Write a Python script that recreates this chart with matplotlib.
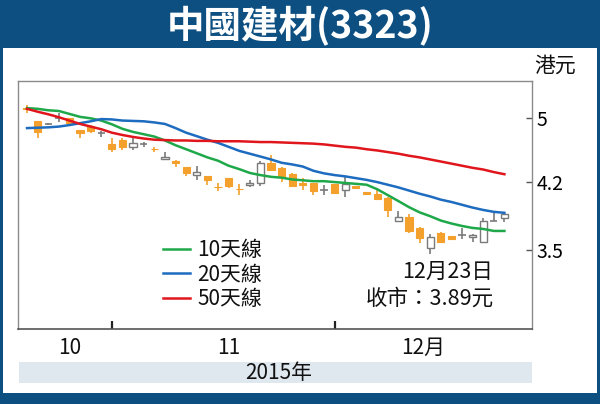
import matplotlib.pyplot as plt
from matplotlib.patches import Rectangle
import numpy as np

# daily prices (HK$), 2015-10-20 .. 2015-12-23
opens  = [5.13, 4.95, 4.91, 4.99, 4.99, 4.83, 4.89, 4.80, 4.65, 4.71,
          4.62, 4.65, 4.595, 4.47, 4.45, 4.37, 4.28, 4.27, 4.145, 4.25,
          4.125, 4.17, 4.19, 4.42, 4.36, 4.29, 4.19, 4.19, 4.11, 4.18,
          4.11, 4.16, 4.09, 4.07, 4.02, 3.78, 3.82, 3.71, 3.51, 3.66,
          3.63, 3.64, 3.62, 3.57, 3.78, 3.81]
highs  = [5.17, 4.96, 4.93, 5.06, 5.00, 4.84, 4.90, 4.82, 4.73, 4.73,
          4.73, 4.68, 4.62, 4.56, 4.46, 4.38, 4.39, 4.27, 4.19, 4.25,
          4.18, 4.22, 4.45, 4.52, 4.37, 4.30, 4.25, 4.19, 4.17, 4.18,
          4.26, 4.16, 4.09, 4.12, 4.03, 3.88, 3.85, 3.715, 3.65, 3.665,
          3.635, 3.71, 3.645, 3.81, 3.88, 3.87]
lows   = [5.06, 4.73, 4.90, 4.94, 4.92, 4.73, 4.80, 4.74, 4.56, 4.58,
          4.58, 4.62, 4.56, 4.47, 4.37, 4.27, 4.22, 4.17, 4.10, 4.13,
          4.06, 4.14, 4.16, 4.33, 4.20, 4.14, 4.11, 4.06, 4.06, 4.07,
          4.03, 4.125, 4.06, 4.00, 3.82, 3.775, 3.66, 3.56, 3.46, 3.565,
          3.595, 3.60, 3.57, 3.565, 3.78, 3.77]
closes = [5.12, 4.81, 4.91, 4.99, 4.93, 4.80, 4.82, 4.80, 4.59, 4.62,
          4.67, 4.65, 4.59, 4.49, 4.42, 4.30, 4.32, 4.22, 4.14, 4.16,
          4.12, 4.19, 4.42, 4.34, 4.26, 4.16, 4.17, 4.10, 4.11, 4.08,
          4.18, 4.13, 4.07, 4.01, 3.89, 3.82, 3.68, 3.61, 3.62, 3.57,
          3.60, 3.64, 3.64, 3.78, 3.78, 3.85]

ma10 = [5.13, 5.12, 5.10, 5.09, 5.05, 5.01, 4.99, 4.96, 4.91, 4.85,
        4.81, 4.78, 4.75, 4.70, 4.64, 4.59, 4.54, 4.49, 4.45, 4.39,
        4.35, 4.305, 4.28, 4.26, 4.25, 4.23, 4.22, 4.21, 4.21, 4.20,
        4.19, 4.18, 4.17, 4.12, 4.055, 3.99, 3.925, 3.87, 3.83, 3.785,
        3.755, 3.73, 3.71, 3.70, 3.68, 3.68]
ma20 = [4.86, 4.865, 4.87, 4.88, 4.90, 4.925, 4.95, 4.98, 4.975, 4.96,
        4.955, 4.95, 4.935, 4.915, 4.86, 4.80, 4.755, 4.71, 4.67, 4.62,
        4.57, 4.535, 4.50, 4.465, 4.425, 4.405, 4.38, 4.33, 4.30, 4.28,
        4.265, 4.245, 4.225, 4.20, 4.17, 4.14, 4.105, 4.07, 4.04, 4.005,
        3.98, 3.95, 3.92, 3.895, 3.875, 3.865]
ma50 = [5.12, 5.08, 5.045, 5.005, 4.96, 4.915, 4.88, 4.845, 4.80, 4.77,
        4.745, 4.725, 4.71, 4.705, 4.70, 4.70, 4.695, 4.695, 4.69, 4.69,
        4.69, 4.685, 4.68, 4.68, 4.675, 4.67, 4.665, 4.66, 4.65, 4.635,
        4.62, 4.61, 4.59, 4.575, 4.555, 4.535, 4.51, 4.49, 4.465, 4.44,
        4.415, 4.39, 4.365, 4.345, 4.315, 4.29]

month_labels = ['10', '11', '12月']
month_label_day = [4, 19, 37.3]   # where each month name sits (day index)
month_first = [8, 29]             # first trading day of Nov and Dec
y_ticks = [3.5, 4.2, 5]
y_ticklabels = ['3.5', '4.2', '5']

plt.rcParams['font.family'] = ['Noto Sans CJK TC', 'DejaVu Sans']

W, H = 600, 404
BLUE = '#0e4f82'
ORANGE = '#f4a02c'
GREY = '#7a7a7a'

fig = plt.figure(figsize=(6, 4.04), dpi=100)
fig.patch.set_facecolor(BLUE)

def fx(x):
    return x / W

def fy(y):
    return 1 - y / H

# white panel and grey year band
fig.patches.append(Rectangle((fx(3), fy(393)), fx(594), 345 / H, transform=fig.transFigure,
                             facecolor='white', edgecolor='none', zorder=-2))
fig.patches.append(Rectangle((fx(19), fy(383)), fx(513), 21 / H, transform=fig.transFigure,
                             facecolor='#dfe7ef', edgecolor='none', zorder=-1))

ax = fig.add_axes([fx(18), fy(329), fx(514), 248 / H])
ax.set_facecolor('none')

n = len(opens)
x = np.arange(n)
o = np.array(opens); c = np.array(closes); h = np.array(highs); l = np.array(lows)
down = c < o
flat = c == o
up = c > o

# wicks
ax.vlines(x[down], l[down], h[down], color=ORANGE, lw=1.2, zorder=2)
ax.vlines(x[~down], l[~down], h[~down], color=GREY, lw=1.2, zorder=2)
# bodies
bw = 0.68
ax.bar(x[down], (o - c)[down], bottom=c[down], width=bw, color=ORANGE,
       edgecolor=ORANGE, lw=0.8, zorder=3)
ax.bar(x[up], (c - o)[up], bottom=o[up], width=bw, color='white',
       edgecolor=GREY, lw=1.0, zorder=3)
ax.hlines(c[flat], x[flat] - bw / 2, x[flat] + bw / 2, color=GREY, lw=1.2, zorder=3)

ax.plot(x, ma10, color='#1fa84a', lw=1.8, label='10天線', zorder=4)
ax.plot(x, ma20, color='#1d6cbf', lw=1.8, label='20天線', zorder=4)
ax.plot(x, ma50, color='#e0161c', lw=1.8, label='50天線', zorder=4)

ax.set_yscale('log')
ax.set_ylim(2.823, 5.52)
ax.set_xlim(-0.85, 47.6)
ax.yaxis.tick_right()
ax.set_yticks(y_ticks)
ax.set_yticklabels(y_ticklabels)
ax.yaxis.set_minor_locator(plt.NullLocator())
ax.tick_params(axis='y', direction='in', length=4, width=1, pad=3, labelsize=14,
               color='#555555')
ax.set_xticks(month_first)
ax.set_xticklabels([])
ax.tick_params(axis='x', direction='in', length=6, width=1.6, color='#222222')

for side in ['top', 'left', 'right']:
    ax.spines[side].set_color('#8a8a8a')
    ax.spines[side].set_linewidth(1)
ax.spines['bottom'].set_color('#555555')
ax.spines['bottom'].set_linewidth(1.2)

for pos, lab in zip(month_label_day, month_labels):
    ax.text(pos, -0.075, lab, transform=ax.get_xaxis_transform(), ha='center',
            va='center', fontsize=15, color='#111111')

leg = ax.legend(loc='upper left', bbox_to_anchor=(fx(163 - 18) / fx(514), 1 - (239 - 81) / 248),
                frameon=False, fontsize=15, handlelength=1.3, handletextpad=0.35,
                labelspacing=0.13, borderaxespad=0, borderpad=0)
for t in leg.get_texts():
    t.set_color('#111111')

fig.text(fx(493), fy(272), '12月23日', ha='right', va='center', fontsize=15.5, color='#111111')
fig.text(fx(494), fy(299), '收市：3.89元', ha='right', va='center', fontsize=15.5, color='#111111')

fig.text(fx(555), fy(66), '港元', ha='center', va='center', fontsize=15, color='#111111')
fig.text(fx(300), fy(25), '中國建材(3323)', ha='center', va='center', fontsize=27,
         fontweight='heavy', color='white')
fig.text(fx(279), fy(373), '2015年', ha='center', va='center', fontsize=15, color='#111111')

fig.savefig('out.png', dpi=100, facecolor=fig.get_facecolor())
